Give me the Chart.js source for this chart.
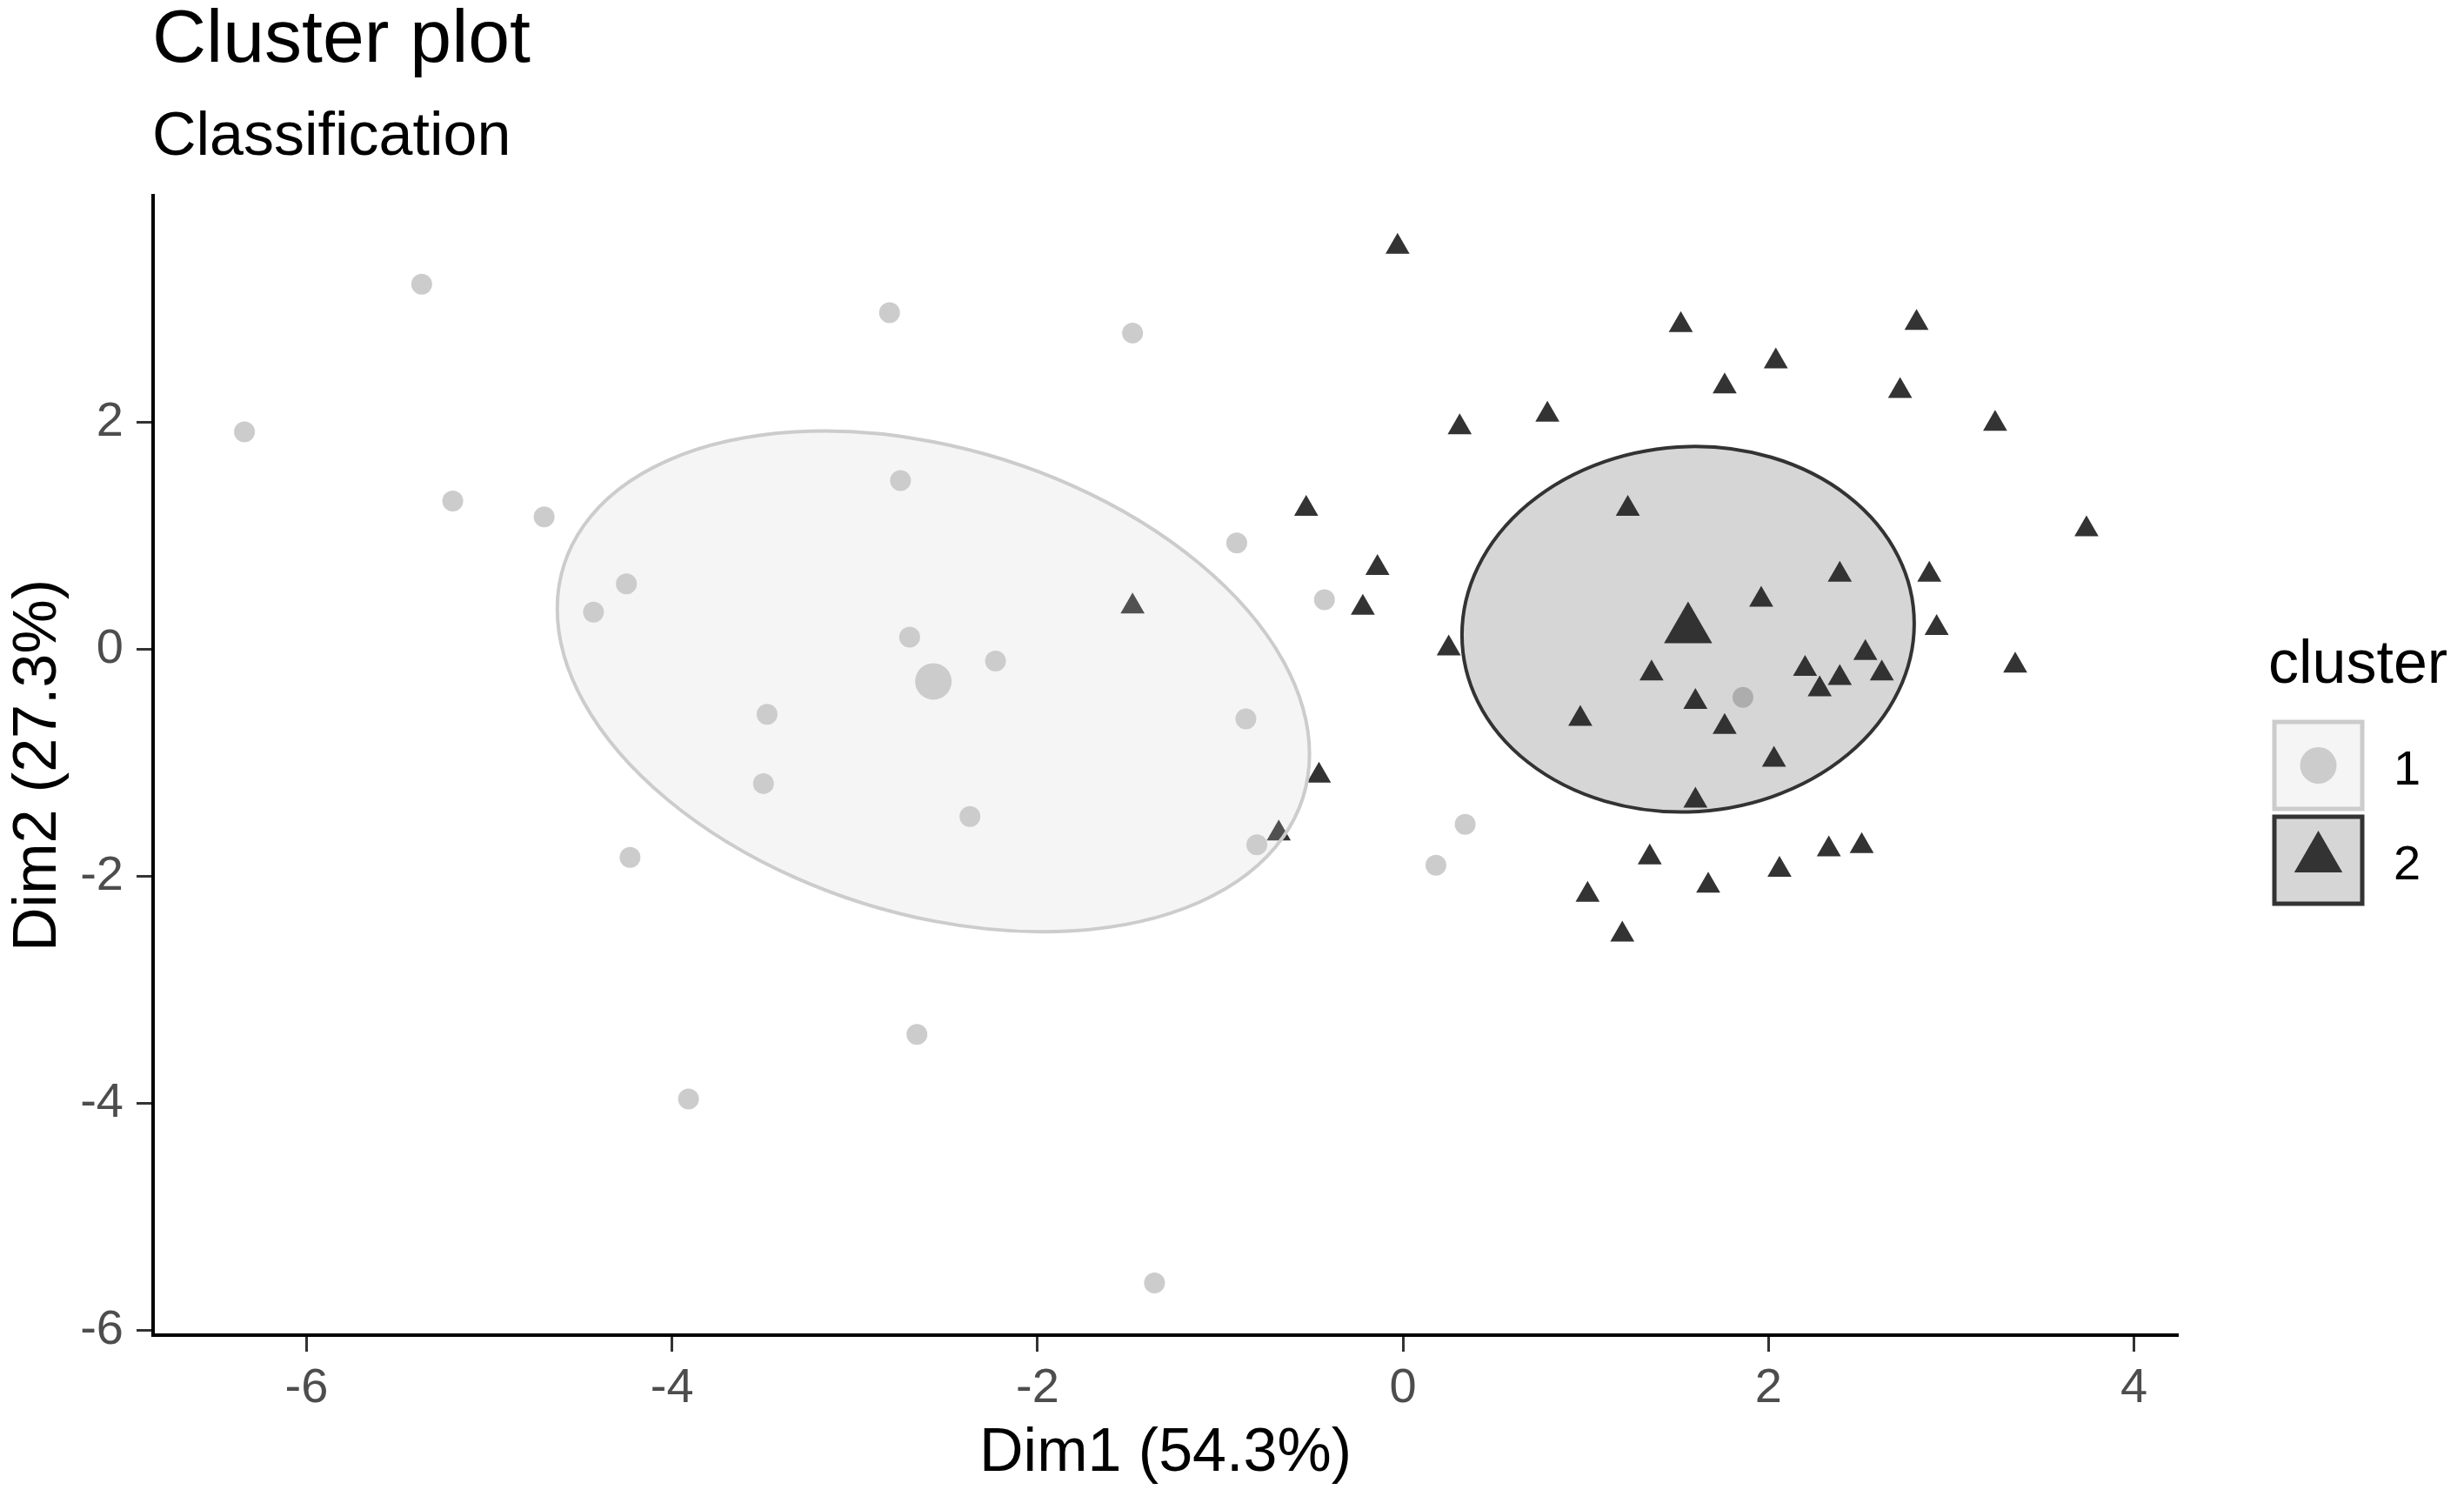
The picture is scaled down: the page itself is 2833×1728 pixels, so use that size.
<!DOCTYPE html>
<html>
<head>
<meta charset="utf-8">
<script src="https://cdn.jsdelivr.net/npm/chart.js@4.4.1/dist/chart.umd.min.js"></script>
<style>
  html, body { margin: 0; padding: 0; background: #fff; }
  #wrap { width: 2833px; height: 1728px; position: relative; }
</style>
</head>
<body>
<div id="wrap"><canvas id="cluster-chart"></canvas></div>
<script>
// values (Dim1 / Dim2 coordinates)
const cluster1X = [-6.34, -5.37, -5.20, -4.70, -4.43, -4.25, -4.23, -3.91, -3.50, -3.48, -2.81, -2.75, -2.70,
                   -2.66, -2.37, -2.23, -1.48, -1.36, -0.91, -0.86, -0.80, -0.43, 0.18, 0.34, 1.86];
const cluster1Y = [1.92, 3.22, 1.31, 1.17, 0.33, 0.58, -1.83, -3.96, -1.18, -0.57, 2.97, 1.49, 0.11,
                   -3.39, -1.47, -0.10, 2.79, -5.58, 0.94, -0.61, -1.72, 0.44, -1.90, -1.54, -0.42];

const cluster2X = [-0.03, 1.52, 2.81, 2.04, 1.76, 2.72, 0.79, 0.31, 3.24, -0.53, 1.23, 3.74, -0.14, 2.39,
                   2.88, -0.22, 1.96, 2.92, 0.25, 2.53, 3.35, 1.36, 2.20, 2.39, 2.62, 2.28, 1.60, 0.97,
                   1.76, 2.03, -0.46, 1.60, -0.68, 1.35, 2.33, 2.51, 2.06, 1.67, 1.01, 1.20, -1.48];
const cluster2Y = [3.55, 2.86, 2.88, 2.54, 2.32, 2.28, 2.07, 1.96, 1.99, 1.24, 1.24, 1.06, 0.72, 0.66,
                   0.66, 0.37, 0.44, 0.19, 0.01, -0.03, -0.14, -0.21, -0.17, -0.25, -0.21, -0.35, -0.46, -0.61,
                   -0.68, -0.97, -1.11, -1.33, -1.62, -1.83, -1.76, -1.73, -1.94, -2.08, -2.16, -2.51, 0.38];

const clusterLabels = ['1', '2'];
const centroidX = [-2.57, 1.56];
const centroidY = [-0.28, 0.18];
// concentration ellipses: [var x, cov xy, var y] in data units
const ellipseCov = [[4.236, -1.317, 4.866], [1.531, 0.062, 2.593]];

const xTicks = [-6, -4, -2, 0, 2, 4];
const yTicks = [-6, -4, -2, 0, 2];

const FONT = "'Liberation Sans', Arial, sans-serif";
Chart.defaults.font.family = FONT;

const toPoints = (xs, ys) => xs.map((x, i) => ({ x: x, y: ys[i] }));

const ellipsePlugin = {
    id: 'ellipses',
    afterDatasetsDraw(chart) {
        const { ctx, scales: { x, y } } = chart;
        const sx = x.getPixelForValue(1) - x.getPixelForValue(0);
        const sy = y.getPixelForValue(1) - y.getPixelForValue(0);
        const fills = ['rgba(204,204,204,0.2)', 'rgba(51,51,51,0.2)'];
        const strokes = ['#cccccc', '#333333'];
        ellipseCov.forEach((c, i) => {
            const l11 = Math.sqrt(c[0]);
            const l21 = c[1] / l11;
            const l22 = Math.sqrt(c[2] - l21 * l21);
            ctx.save();
            ctx.beginPath();
            ctx.transform(sx * l11, sy * l21, 0, sy * l22,
                x.getPixelForValue(centroidX[i]), y.getPixelForValue(centroidY[i]));
            ctx.arc(0, 0, 1, 0, Math.PI * 2);
            ctx.restore();
            ctx.save();
            ctx.fillStyle = fills[i];
            ctx.fill();
            ctx.lineWidth = 4;
            ctx.strokeStyle = strokes[i];
            ctx.stroke();
            ctx.restore();
        });
    }
};

const textPlugin = {
    id: 'titlesAndLegend',
    afterDraw(chart) {
        const ctx = chart.ctx;
        ctx.save();
        ctx.fillStyle = '#000';
        ctx.textAlign = 'left';
        ctx.textBaseline = 'alphabetic';
        ctx.font = '86px ' + FONT;
        ctx.fillText('Cluster plot', 175, 71);
        ctx.font = '70px ' + FONT;
        ctx.fillText('Classification', 175, 178);

        // legend
        ctx.fillText('cluster', 2608, 785);
        const boxes = [
            { top: 830, fill: '#f5f5f5', stroke: '#cccccc', marker: '#cccccc', style: 'circle', r: 21 },
            { top: 939, fill: '#d6d6d6', stroke: '#333333', marker: '#333333', style: 'triangle', r: 32 }
        ];
        boxes.forEach((b, i) => {
            ctx.fillStyle = b.fill;
            ctx.fillRect(2615, b.top, 101, 100);
            ctx.lineWidth = 5;
            ctx.strokeStyle = b.stroke;
            ctx.strokeRect(2615, b.top, 101, 100);
            ctx.fillStyle = b.marker;
            Chart.helpers.drawPoint(ctx, { pointStyle: b.style, radius: b.r, borderWidth: 0 },
                2665.5, b.top + 50 + (b.style === 'triangle' ? -2 : 0));
            ctx.fillStyle = '#000';
            ctx.font = '56px ' + FONT;
            ctx.fillText(clusterLabels[i], 2752, b.top + 72);
        });
        ctx.restore();
    }
};

const axisCommon = {
    type: 'linear',
    grid: { drawOnChartArea: false, drawTicks: true, tickLength: 19, tickColor: '#333333', tickWidth: 3 },
    border: { display: true, color: '#000000', width: 4 },
};

new Chart(document.getElementById('cluster-chart'), {
    type: 'scatter',
    data: {
        datasets: [
            {
                label: '1 centroid', data: toPoints([centroidX[0]], [centroidY[0]]),
                pointStyle: 'circle', pointRadius: 21, backgroundColor: '#cccccc', borderWidth: 0, order: 1
            },
            {
                label: '2 centroid', data: toPoints([centroidX[1]], [centroidY[1]]),
                pointStyle: 'triangle', pointRadius: 32, backgroundColor: '#333333', borderWidth: 0, order: 0
            },
            {
                label: clusterLabels[0], data: toPoints(cluster1X, cluster1Y),
                pointStyle: 'circle', pointRadius: 12, backgroundColor: '#cccccc', borderWidth: 0, order: 3
            },
            {
                label: clusterLabels[1], data: toPoints(cluster2X, cluster2Y),
                pointStyle: 'triangle', pointRadius: 16, backgroundColor: '#333333', borderWidth: 0, order: 2
            }
        ]
    },
    options: {
        responsive: true,
        maintainAspectRatio: false,
        devicePixelRatio: 1,
        animation: false,
        events: [],
        layout: { padding: { left: 0, top: 225, right: 329, bottom: 0 } },
        plugins: {
            legend: { display: false },
            tooltip: { enabled: false },
            title: { display: false }
        },
        scales: {
            x: {
                ...axisCommon,
                min: -6.84, max: 4.24,
                afterBuildTicks: s => { s.ticks = xTicks.map(v => ({ value: v })); },
                afterFit: s => { s.height = 193; },
                ticks: {
                    autoSkip: false, maxRotation: 0, padding: 9, color: '#4d4d4d',
                    font: { size: 56 }, callback: v => String(v)
                },
                title: {
                    display: true, text: 'Dim1 (54.3%)', color: '#000',
                    font: { size: 70 }, padding: { top: 0, bottom: 14 }
                }
            },
            y: {
                ...axisCommon,
                min: -6.04, max: 4.0,
                afterBuildTicks: s => { s.ticks = yTicks.map(v => ({ value: v })); },
                afterFit: s => { s.width = 176; },
                ticks: {
                    autoSkip: false, padding: 15, color: '#4d4d4d',
                    font: { size: 56 }, callback: v => String(v)
                },
                title: {
                    display: true, text: 'Dim2 (27.3%)', color: '#000',
                    font: { size: 70 }, padding: { top: 3, bottom: 0 }
                }
            }
        }
    },
    plugins: [ellipsePlugin, textPlugin]
});
</script>
</body>
</html>
